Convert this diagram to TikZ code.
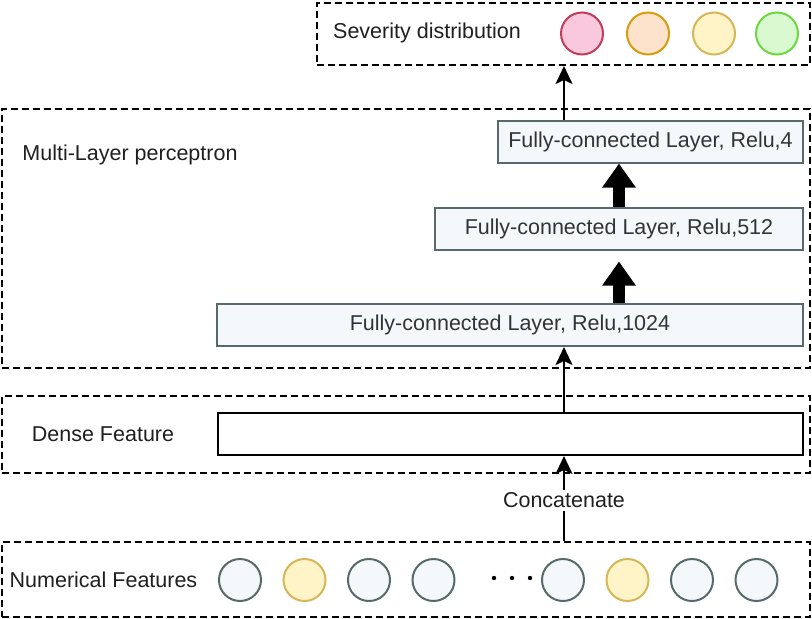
\documentclass[tikz,border=0pt]{standalone}
\usepackage{fontspec}
\setmainfont{Liberation Sans}
\usetikzlibrary{arrows.meta,positioning}

\definecolor{edge}{HTML}{566A6B}
\definecolor{cell}{HTML}{F5F8FA}
\definecolor{ylwline}{HTML}{D6B656}
\definecolor{ylwfill}{HTML}{FFF4C8}
\definecolor{pnkline}{HTML}{C23B5B}
\definecolor{pnkfill}{HTML}{F9C8DC}
\definecolor{orgline}{HTML}{D99A0B}
\definecolor{orgfill}{HTML}{FDE2CC}
\definecolor{grnline}{HTML}{6CD83F}
\definecolor{grnfill}{HTML}{D9FAD0}

\begin{document}
\begin{tikzpicture}[x=1pt, y=-1pt,
  every node/.style={font=\fontsize{21.5}{26}\selectfont, text=black!88, inner sep=0pt},
  group/.style={draw, line width=2pt, dash pattern=on 7pt off 4pt, minimum width=808pt},
  layer/.style={draw=edge, fill=cell, line width=2pt, minimum height=42pt, text=black!80},
  unit/.style={circle, draw=edge, fill=cell, line width=2pt, minimum size=42pt},
  hot/.style={draw=ylwline, fill=ylwfill},
  thin/.style={line width=2pt, -{Stealth[length=18pt, width=17pt, inset=4pt]}},
  thick/.style={line width=12pt, -{Triangle[length=24pt, width=32pt]}}
]
\useasboundingbox (0,0) rectangle (812,619);

% dashed groups
\node[group, minimum width=493pt, minimum height=62pt] (out) at (563.5,34) {};
\node[group, minimum height=259pt] (mlp) at (406,238.5) {};
\node[group, minimum height=77pt] (feat) at (406,434.5) {};
\node[group, minimum height=75pt] (num) at (406,579.5) {};

\node (outlbl) at (427,33) {Severity distribution};
\node (mlplbl) at (130,155) {Multi-Layer perceptron};
\node (featlbl) at (103,434) {Dense Feature};
\node (numlbl) at (103.5,580) {Numerical Features};

% output units
\node[unit, draw=pnkline, fill=pnkfill] (o1) at (582,33.5) {};
\node[unit, draw=orgline, fill=orgfill] (o2) at (648,33.5) {};
\node[unit, hot] (o3) at (714,33.5) {};
\node[unit, draw=grnline, fill=grnfill] (o4) at (777,33.5) {};

% layers
\node[layer, minimum width=305pt] (fc4) at (650.5,141.5) {Fully-connected Layer, Relu,4};
\node[layer, minimum width=368pt] (fc512) at (619,228.5) {Fully-connected Layer, Relu,512};
\node[layer, minimum width=586pt] (fc1024) at (510,325) {Fully-connected Layer, Relu,1024};
\node[draw, line width=2pt, minimum width=585pt, minimum height=42pt] (dense) at (510.5,434) {};

% input units
\foreach \x/\s [count=\i] in {240/, 304.5/hot, 369/, 433.5/, 563/, 627.5/hot, 692/, 756.5/}
  \node[unit, \s] (n\i) at (\x,580) {};
\foreach \x in {494,512,530}
  \fill (\x,578) circle (2.2pt);

\coordinate (ax) at (564,0);
\draw[thin] (num.north -| ax) -- node[fill=white, inner sep=3pt, pos=0.48] (cat) {Concatenate} (dense.south -| ax);
\draw[thin] (dense.north -| ax) -- (fc1024.south -| ax);
\draw[thick, shorten >=11pt] (fc1024.north -| fc512) -- (fc512.south);
\draw[thick] (fc512.north) -- (fc4.south -| fc512);
\draw[thin] (fc4.north -| ax) -- (out.south -| ax);
\end{tikzpicture}
\end{document}
